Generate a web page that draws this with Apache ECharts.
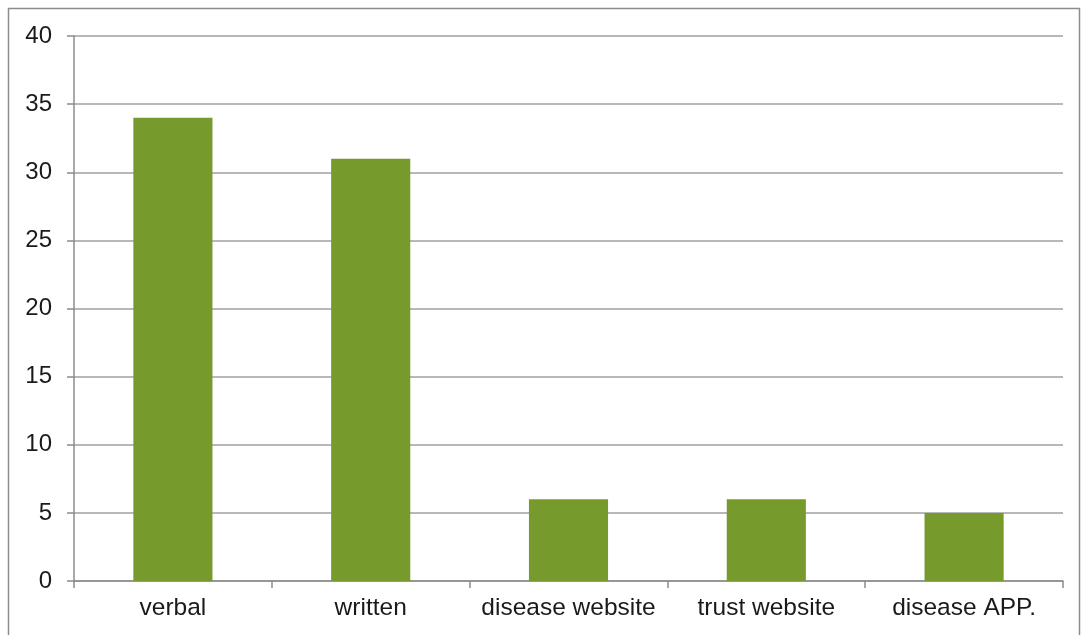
<!DOCTYPE html>
<html>
<head>
<meta charset="utf-8">
<script src="https://cdn.jsdelivr.net/npm/echarts@6/dist/echarts.min.js"></script>
<style>
html,body{margin:0;padding:0;background:#fff;}
#c{width:1081px;height:635px;}
</style>
</head>
<body>
<div id="c"></div>
<script>
const categories = ['verbal', 'written', 'disease website', 'trust website', 'disease APP.'];
const values = [34, 31, 6, 6, 5];
const yTicks = [0, 5, 10, 15, 20, 25, 30, 35, 40];

const chart = echarts.init(document.getElementById('c'), null, {renderer: 'canvas'});
chart.setOption({
  animation: false,
  backgroundColor: '#fff',
  graphic: [{
    type: 'rect',
    shape: {x: 8.5, y: 8.5, width: 1071, height: 700},
    style: {fill: 'none', stroke: '#8c8c8c', lineWidth: 1.5},
    silent: true
  }],
  grid: {left: 74, right: 18, top: 36, bottom: 54, containLabel: false},
  xAxis: {
    type: 'category',
    data: categories,
    axisLine: {show: true, lineStyle: {color: '#8c8c8c', width: 1.5}},
    axisTick: {show: true, length: 7, interval: 0, alignWithLabel: false, lineStyle: {color: '#8c8c8c', width: 1.5}},
    axisLabel: {color: '#1a1a1a', fontSize: 24.5, interval: 0, hideOverlap: false, fontFamily: 'Liberation Sans, Arial, sans-serif', margin: 15}
  },
  yAxis: {
    type: 'value',
    min: 0, max: 40, interval: 5,
    axisLine: {show: true, lineStyle: {color: '#8c8c8c', width: 1.5}},
    axisTick: {show: true, length: 7, lineStyle: {color: '#8c8c8c', width: 1.5}},
    splitLine: {show: true, lineStyle: {color: '#a0a0a0', width: 1.5}},
    axisLabel: {color: '#1a1a1a', fontSize: 24, fontFamily: 'Liberation Sans, Arial, sans-serif', margin: 22,
      formatter: v => yTicks.includes(v) ? String(v) : ''}
  },
  series: [{
    type: 'bar',
    data: values,
    barWidth: '40%',
    itemStyle: {color: '#779a2c'}
  }]
});
</script>
</body>
</html>
